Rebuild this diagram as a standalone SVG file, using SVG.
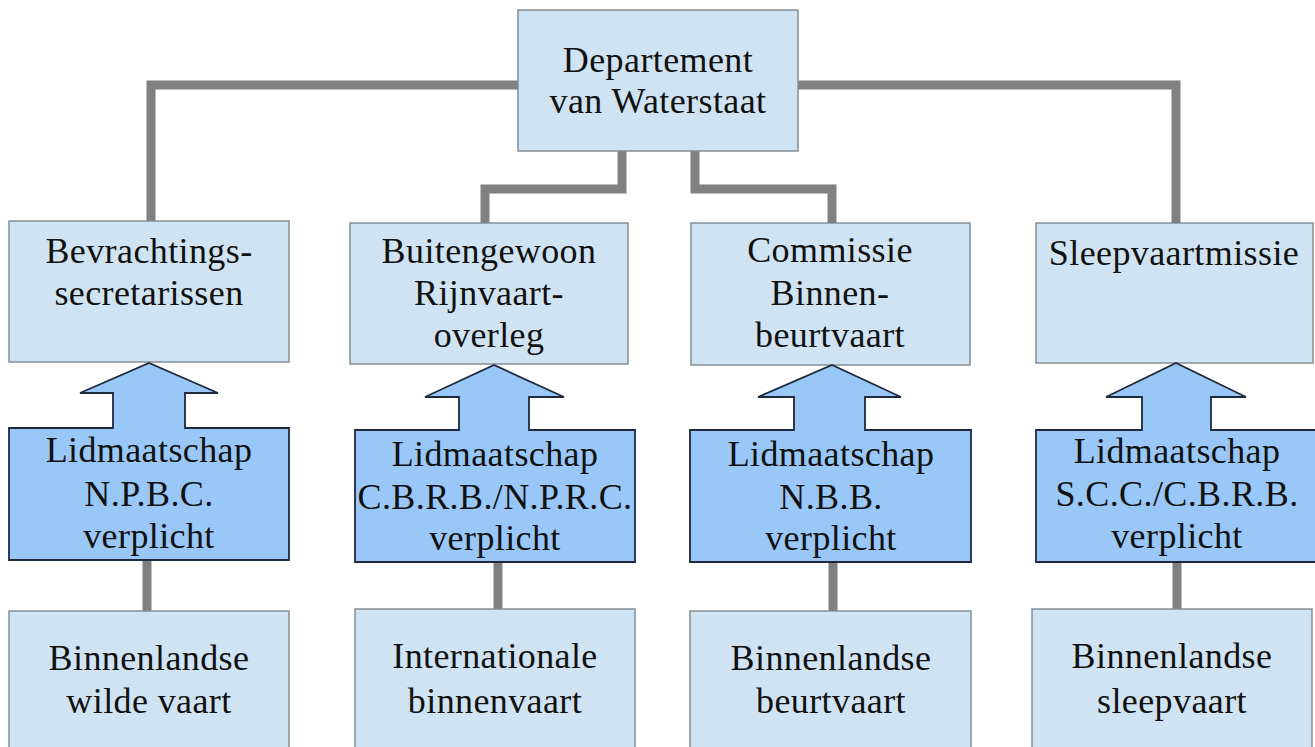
<svg xmlns="http://www.w3.org/2000/svg" width="1315" height="747" viewBox="0 0 1315 747">
<style>
.box{fill:#cfe3f3;stroke:#848e96;stroke-width:1.5}
.arrow{fill:#99c8f8;stroke:#1c2a3c;stroke-width:1.8;stroke-linejoin:miter}
.conn{fill:none;stroke:#808080;stroke-width:9;stroke-linejoin:miter}
text{font-family:"Liberation Serif","Times New Roman",serif;font-size:36px;letter-spacing:0.4px;fill:#111;text-anchor:middle}
</style>
<rect width="1315" height="747" fill="#ffffff"/>
<g id="connectors">
<polyline class="conn" points="518,85 151,85 151,221"/>
<polyline class="conn" points="798,85 1176,85 1176,223"/>
<polyline class="conn" points="622,151 622,189 485,189 485,223"/>
<polyline class="conn" points="695,151 695,189 832,189 832,223"/>
<line class="conn" x1="147" y1="560" x2="147" y2="611"/>
<line class="conn" x1="498" y1="562" x2="498" y2="610"/>
<line class="conn" x1="833" y1="562" x2="833" y2="611"/>
<line class="conn" x1="1177" y1="562" x2="1177" y2="610"/>
</g>
<g id="departement">
<rect class="box" x="518" y="10" width="280" height="141"/>
<text x="658" y="72">Departement</text>
<text x="658" y="113">van Waterstaat</text>
</g>
<g id="bevrachting">
<rect class="box" x="9" y="221" width="280" height="141"/>
<text x="149" y="263">Bevrachtings-</text>
<text x="149" y="305">secretarissen</text>
</g>
<g id="buitengewoon">
<rect class="box" x="350" y="223" width="278" height="141"/>
<text x="489" y="263">Buitengewoon</text>
<text x="489" y="305">Rijnvaart-</text>
<text x="489" y="347">overleg</text>
</g>
<g id="commissie">
<rect class="box" x="691" y="223" width="279" height="142"/>
<text x="830" y="262">Commissie</text>
<text x="830" y="305">Binnen-</text>
<text x="830" y="347">beurtvaart</text>
</g>
<g id="sleepvaartmissie">
<rect class="box" x="1036" y="223" width="277" height="140"/>
<text x="1174" y="265">Sleepvaartmissie</text>
</g>
<g id="lid-npbc">
<path class="arrow" d="M9,428 L113,428 L113,393 L80,393 L149,363 L218,393 L185,393 L185,428 L289,428 L289,560 L9,560 Z"/>
<text x="149" y="462">Lidmaatschap</text>
<text x="149" y="506">N.P.B.C.</text>
<text x="149" y="548">verplicht</text>
</g>
<g id="lid-cbrb-nprc">
<path class="arrow" d="M355,430 L459,430 L459,397 L425,397 L494,365 L564,397 L529,397 L529,430 L635,430 L635,562 L355,562 Z"/>
<text x="495" y="466">Lidmaatschap</text>
<text x="495" y="509">C.B.R.B./N.P.R.C.</text>
<text x="495" y="550">verplicht</text>
</g>
<g id="lid-nbb">
<path class="arrow" d="M690,430 L794,430 L794,397 L758,397 L832,365 L901,397 L865,397 L865,430 L971,430 L971,562 L690,562 Z"/>
<text x="831" y="466">Lidmaatschap</text>
<text x="831" y="509">N.B.B.</text>
<text x="831" y="550">verplicht</text>
</g>
<g id="lid-scc-cbrb">
<path class="arrow" d="M1036,430 L1142,430 L1142,397 L1106,397 L1176,363 L1246,397 L1211,397 L1211,430 L1316,430 L1316,562 L1036,562 Z"/>
<text x="1177" y="463">Lidmaatschap</text>
<text x="1177" y="506">S.C.C./C.B.R.B.</text>
<text x="1177" y="548">verplicht</text>
</g>
<g id="wilde-vaart">
<rect class="box" x="9" y="611" width="280" height="145"/>
<text x="149" y="670">Binnenlandse</text>
<text x="149" y="713">wilde vaart</text>
</g>
<g id="internationale">
<rect class="box" x="355" y="609" width="280" height="147"/>
<text x="495" y="668">Internationale</text>
<text x="495" y="713">binnenvaart</text>
</g>
<g id="beurtvaart">
<rect class="box" x="690" y="611" width="281" height="145"/>
<text x="831" y="670">Binnenlandse</text>
<text x="831" y="713">beurtvaart</text>
</g>
<g id="sleepvaart">
<rect class="box" x="1032" y="609" width="280" height="147"/>
<text x="1172" y="668">Binnenlandse</text>
<text x="1172" y="713">sleepvaart</text>
</g>
</svg>
